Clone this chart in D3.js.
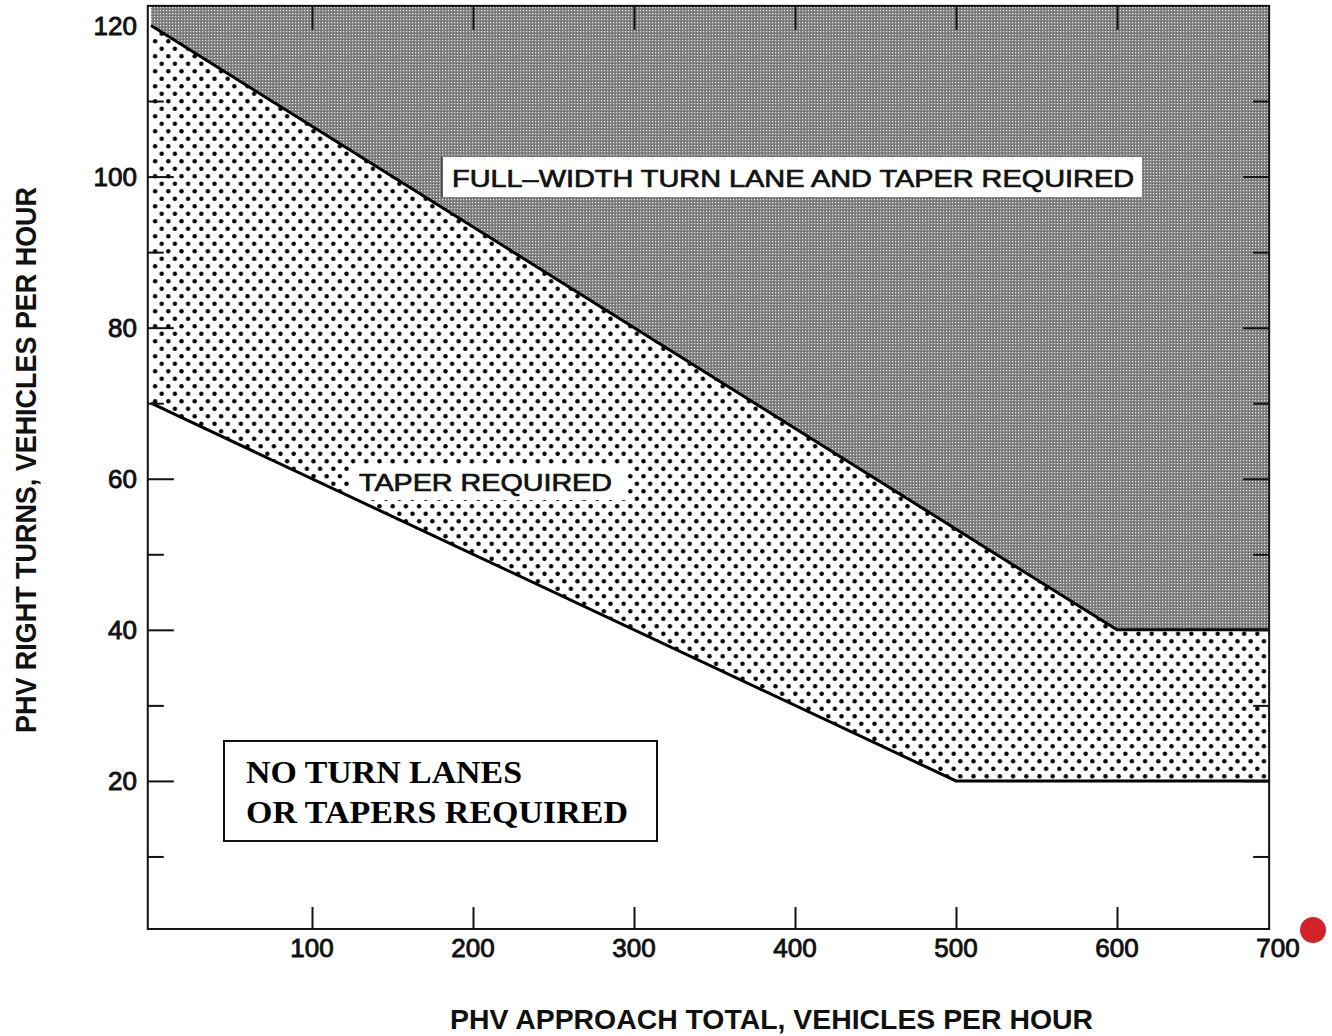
<!DOCTYPE html>
<html>
<head>
<meta charset="utf-8">
<script src="https://cdn.jsdelivr.net/npm/d3@7"></script>
<style>
  html, body { margin: 0; padding: 0; background: #fff; }
  svg { display: block; }
</style>
</head>
<body>
<svg id="chart" width="1332" height="1036"></svg>
<script>
// ---- data ----
const xTickValues = [100, 200, 300, 400, 500, 600, 700];
const xTickLabels = ["100", "200", "300", "400", "500", "600", "700"];
const yTickValues = [20, 40, 60, 80, 100, 120];
const yTickLabels = ["20", "40", "60", "80", "100", "120"];
const yMinorTickValues = [10, 30, 50, 70, 90, 110];
const fullWidthBoundary = [[0, 120], [600, 40], [700, 40]];
const taperBoundary = [[0, 70], [500, 20], [700, 20]];
const xDomain = [0, 700];
const yDomain = [0, 120];
const frameX = [-2, 694.5];
const frameY = [0.4, 122.6];
const xTitle = "PHV APPROACH TOTAL, VEHICLES PER HOUR";
const yTitle = "PHV RIGHT TURNS, VEHICLES PER HOUR";
const fullLabel = "FULL–WIDTH TURN LANE AND TAPER REQUIRED";
const taperLabel = "TAPER REQUIRED";
const noneLabel = ["NO TURN LANES", "OR TAPERS REQUIRED"];

// ---- scales ----
const x = d3.scaleLinear().domain(xDomain).range([151, 1278]);
const y = d3.scaleLinear().domain(yDomain).range([932, 25.5]);

const svg = d3.select("#chart");
const defs = svg.append("defs");

// halftone grey pattern
const pg = defs.append("pattern").attr("id", "grey").attr("patternUnits", "userSpaceOnUse")
  .attr("width", 3).attr("height", 3);
pg.append("rect").attr("width", 3).attr("height", 3).attr("fill", "#868686");
pg.append("rect").attr("x", 1).attr("y", 1).attr("width", 1).attr("height", 1).attr("fill", "#e4e4e4");
pg.append("rect").attr("x", 0).attr("y", 0).attr("width", 1).attr("height", 1).attr("fill", "#5e5e5e");

// dot pattern
const pd = defs.append("pattern").attr("id", "dots").attr("patternUnits", "userSpaceOnUse")
  .attr("width", 13.2).attr("height", 15);
pd.append("rect").attr("width", 13.2).attr("height", 15).attr("fill", "#fff");
[[3.3, 3.75], [9.9, 11.25]].forEach(([cx, cy]) =>
  pd.append("circle").attr("cx", cx).attr("cy", cy).attr("r", 2.2).attr("fill", "#000"));

const fx0 = x(frameX[0]), fx1 = x(frameX[1]);
const fy0 = y(frameY[1]), fy1 = y(frameY[0]);

defs.append("clipPath").attr("id", "plotclip").append("rect")
  .attr("x", fx0).attr("y", fy0).attr("width", fx1 - fx0).attr("height", fy1 - fy0);

const plot = svg.append("g").attr("clip-path", "url(#plotclip)");

// regions
const area = d3.area().x(d => x(d[0])).y0(d => d[1]).y1(d => d[2]);
const upperTop = fullWidthBoundary.map(d => [d[0], y(frameY[1]) - 5, y(d[1])]);
plot.append("path").attr("d", area(upperTop)).attr("fill", "url(#grey)");

const xs = Array.from(new Set([...fullWidthBoundary, ...taperBoundary].map(d => d[0]))).sort((a, b) => a - b);
const interp = (pts, xv) => {
  for (let i = 0; i < pts.length - 1; i++) {
    const [a, b] = [pts[i], pts[i + 1]];
    if (xv >= a[0] && xv <= b[0]) return a[1] + (b[1] - a[1]) * (xv - a[0]) / (b[0] - a[0]);
  }
  return pts[pts.length - 1][1];
};
const mid = xs.map(xv => [xv, y(interp(fullWidthBoundary, xv)), y(interp(taperBoundary, xv))]);
plot.append("path").attr("d", area(mid)).attr("fill", "url(#dots)");

// label backgrounds (behind boundary lines)
plot.append("rect").attr("x", 442).attr("y", 157).attr("width", 700).attr("height", 40)
  .attr("fill", "#fff");
plot.append("line").attr("x1", 442).attr("x2", 442).attr("y1", 157).attr("y2", 197)
  .attr("stroke", "#333").attr("stroke-width", 1.5);
plot.append("rect").attr("x", 350).attr("y", 464).attr("width", 277).attr("height", 36)
  .attr("fill", "#fff");

// boundary lines
const line = d3.line().x(d => x(d[0])).y(d => y(d[1]));
plot.append("path").attr("d", line(fullWidthBoundary)).attr("fill", "none")
  .attr("stroke", "#000").attr("stroke-width", 3);
plot.append("path").attr("d", line(taperBoundary)).attr("fill", "none")
  .attr("stroke", "#000").attr("stroke-width", 3);

// frame
svg.append("rect").attr("x", fx0).attr("y", fy0).attr("width", fx1 - fx0).attr("height", fy1 - fy0)
  .attr("fill", "none").attr("stroke", "#111").attr("stroke-width", 2);

// ticks via axes
const tickInner = (g) => g.select(".domain").remove();
const xInnerTicks = xTickValues.filter(v => v < frameX[1]);
const topAxis = d3.axisBottom(x).tickValues(xInnerTicks).tickSize(24).tickFormat("");
svg.append("g").attr("transform", `translate(0,${fy0})`).call(topAxis).call(tickInner)
  .selectAll("line").attr("stroke", "#111").attr("stroke-width", 2);
const botAxis = d3.axisTop(x).tickValues(xInnerTicks).tickSize(22).tickFormat("");
svg.append("g").attr("transform", `translate(0,${fy1})`).call(botAxis).call(tickInner)
  .selectAll("line").attr("stroke", "#111").attr("stroke-width", 2);

const yMajorInner = yTickValues.filter(v => v < frameY[1] - 5);
[[fx0, d3.axisRight], [fx1, d3.axisLeft]].forEach(([px, ax]) => {
  svg.append("g").attr("transform", `translate(${px},0)`)
    .call(ax(y).tickValues(yMajorInner).tickSize(26).tickFormat("")).call(tickInner)
    .selectAll("line").attr("stroke", "#111").attr("stroke-width", 2);
  svg.append("g").attr("transform", `translate(${px},0)`)
    .call(ax(y).tickValues(yMinorTickValues).tickSize(16).tickFormat("")).call(tickInner)
    .selectAll("line").attr("stroke", "#111").attr("stroke-width", 2);
});

// tick labels
const labelFont = "'Liberation Sans', Arial, Helvetica, sans-serif";
svg.append("g").selectAll("text").data(xTickValues).join("text")
  .attr("x", d => x(d)).attr("y", 957).attr("text-anchor", "middle")
  .attr("font-family", labelFont).attr("font-size", 26).attr("fill", "#111")
  .attr("stroke", "#111").attr("stroke-width", 0.9)
  .text((d, i) => xTickLabels[i]);
svg.append("g").selectAll("text").data(yTickValues).join("text")
  .attr("x", 137).attr("y", d => y(d) + 9).attr("text-anchor", "end")
  .attr("font-family", labelFont).attr("font-size", 26).attr("fill", "#111")
  .attr("stroke", "#111").attr("stroke-width", 0.9)
  .text((d, i) => yTickLabels[i]);

// axis titles
svg.append("text").attr("x", 450).attr("y", 1029)
  .attr("textLength", 643).attr("lengthAdjust", "spacingAndGlyphs")
  .attr("font-family", labelFont).attr("font-weight", "bold").attr("font-size", 28).attr("fill", "#111")
  .text(xTitle);
svg.append("text").attr("transform", "translate(36,733) rotate(-90)")
  .attr("textLength", 546).attr("lengthAdjust", "spacingAndGlyphs")
  .attr("font-family", labelFont).attr("font-weight", "bold").attr("font-size", 30).attr("fill", "#111")
  .text(yTitle);

// region label texts
svg.append("text").attr("x", 452).attr("y", 187)
  .attr("textLength", 682).attr("lengthAdjust", "spacingAndGlyphs")
  .attr("font-family", labelFont).attr("font-size", 24).attr("fill", "#111")
  .attr("stroke", "#111").attr("stroke-width", 0.7)
  .text(fullLabel);
svg.append("text").attr("x", 359).attr("y", 491)
  .attr("textLength", 253).attr("lengthAdjust", "spacingAndGlyphs")
  .attr("font-family", labelFont).attr("font-size", 24).attr("fill", "#111")
  .attr("stroke", "#111").attr("stroke-width", 0.7)
  .text(taperLabel);

svg.append("rect").attr("x", 224).attr("y", 741).attr("width", 433).attr("height", 100)
  .attr("fill", "#fff").attr("stroke", "#111").attr("stroke-width", 2);
svg.append("g").selectAll("text").data(noneLabel).join("text")
  .attr("x", 246).attr("y", (d, i) => 783 + i * 40)
  .attr("textLength", (d, i) => i === 0 ? 276 : 382).attr("lengthAdjust", "spacingAndGlyphs")
  .attr("font-family", "'Liberation Serif', 'Times New Roman', serif").attr("font-weight", "bold")
  .attr("font-size", 31).attr("fill", "#000")
  .text(d => d);

// red marker
svg.append("circle").attr("cx", 1313).attr("cy", 930).attr("r", 13).attr("fill", "#d2232a");
</script>
</body>
</html>
